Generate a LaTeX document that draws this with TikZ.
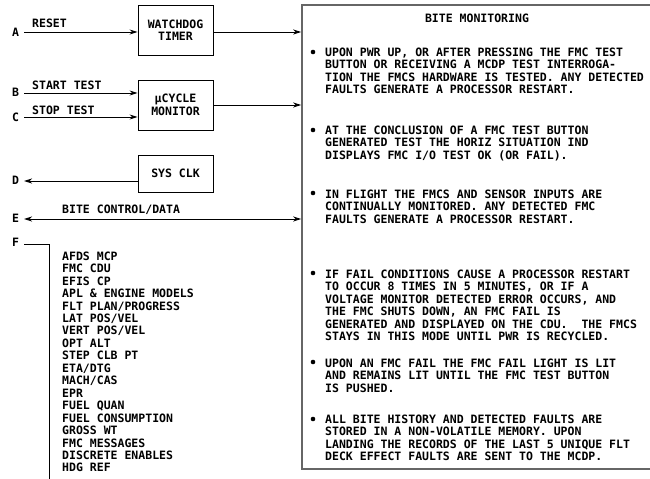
\documentclass[tikz,border=0pt]{standalone}
\usepackage{fontspec}
\setmonofont{DejaVu Sans Mono}
\usetikzlibrary{arrows.meta}

\tikzset{
  txt/.style={font=\ttfamily\bfseries\fontsize{11.55}{12.5}\selectfont, inner sep=0pt},
  blk/.style={draw, line width=0.9bp, minimum width=75bp, align=center, txt},
  sig/.style={line width=0.9bp, -{Stealth[length=8bp,width=5bp,inset=2.5bp]}},
  sigboth/.style={line width=0.9bp, {Stealth[length=8bp,width=5bp,inset=2.5bp]}-{Stealth[length=8bp,width=5bp,inset=2.5bp]}},
}

\begin{document}
\begin{tikzpicture}[x=1bp,y=-1bp]
\useasboundingbox (0,0) rectangle (650,479);

% Function blocks
\node[blk, minimum height=50bp] (wd) at (175.5,30) {WATCHDOG\\TIMER};
\node[blk, minimum height=50bp] (cyc) at (175.5,105) {µCYCLE\\MONITOR};
\node[blk, minimum height=37bp] (clk) at (175.5,173.5) {SYS CLK};

% BITE monitoring panel
\node[draw=black!60, line width=1.6bp, minimum width=350bp, minimum height=464bp, inner sep=0pt] (mon) at (477,237) {};

% Connector letters
\node[txt, anchor=base west] (la) at (12,37) {A};
\node[txt, anchor=base west] (lb) at (12,97) {B};
\node[txt, anchor=base west] (lc) at (12,122) {C};
\node[txt, anchor=base west] (ld) at (12,185) {D};
\node[txt, anchor=base west] (le) at (12,223) {E};
\node[txt, anchor=base west] (lf) at (12,247) {F};

\coordinate (a) at (24,32);
\coordinate (b) at (24,93);
\coordinate (c) at (24,117);
\coordinate (d) at (24,181);
\coordinate (e) at (24,219);
\coordinate (f) at (24,244);
\coordinate (fb) at (49,479);

% Signal lines
\draw[sig] (a) -- (a -| wd.west);
\draw[sig] (b) -- (b -| cyc.west);
\draw[sig] (c) -- (c -| cyc.west);
\draw[sig] (d -| clk.west) -- (d);
\draw[sigboth] (e) -- (e -| mon.west);
\draw[sig] (wd.east |- a) -- (a -| mon.west);
\draw[sig] (cyc.east) -- (cyc.east -| mon.west);
\draw[line width=0.9bp] (f) -- (f -| fb) -- (fb);

% Signal labels
\node[txt, anchor=base west] (rst) at (32,28) {RESET};
\node[txt, anchor=base west] (strt) at (32,90) {START TEST};
\node[txt, anchor=base west] (stp) at (32,115) {STOP TEST};
\node[txt, anchor=base west] (bcd) at (62,214) {BITE CONTROL/DATA};

% Data list on F
\node[txt, anchor=north west, align=left] (lst) at (62,251.5) {AFDS MCP\\FMC CDU\\EFIS CP\\APL \& ENGINE MODELS\\FLT PLAN/PROGRESS\\LAT POS/VEL\\VERT POS/VEL\\OPT ALT\\STEP CLB PT\\ETA/DTG\\MACH/CAS\\EPR\\FUEL QUAN\\FUEL CONSUMPTION\\GROSS WT\\FMC MESSAGES\\DISCRETE ENABLES\\HDG REF};

% Panel text
\node[txt, anchor=base] (ttl) at (477,23) {BITE MONITORING};

\fill (313,52) circle (2.3bp);
\node[txt, anchor=north west, align=left] (b1) at (325,47.5) {UPON PWR UP, OR AFTER PRESSING THE FMC TEST\\BUTTON OR RECEIVING A MCDP TEST INTERROGA-\\TION THE FMCS HARDWARE IS TESTED. ANY DETECTED\\FAULTS GENERATE A PROCESSOR RESTART.};

\fill (313,130) circle (2.3bp);
\node[txt, anchor=north west, align=left] (b2) at (325,125.5) {AT THE CONCLUSION OF A FMC TEST BUTTON\\GENERATED TEST THE HORIZ SITUATION IND\\DISPLAYS FMC I/O TEST OK (OR FAIL).};

\fill (313,193) circle (2.3bp);
\node[txt, anchor=north west, align=left] (b3) at (325,189.5) {IN FLIGHT THE FMCS AND SENSOR INPUTS ARE\\CONTINUALLY MONITORED. ANY DETECTED FMC\\FAULTS GENERATE A PROCESSOR RESTART.};

\fill (313,273) circle (2.3bp);
\node[txt, anchor=north west, align=left] (b4) at (325,269.5) {IF FAIL CONDITIONS CAUSE A PROCESSOR RESTART\\TO OCCUR 8 TIMES IN 5 MINUTES, OR IF A\\VOLTAGE MONITOR DETECTED ERROR OCCURS, AND\\THE FMC SHUTS DOWN, AN FMC FAIL IS\\GENERATED AND DISPLAYED ON THE CDU.\ \ THE FMCS\\STAYS IN THIS MODE UNTIL PWR IS RECYCLED.};

\fill (313,362) circle (2.3bp);
\node[txt, anchor=north west, align=left] (b5) at (325,358.5) {UPON AN FMC FAIL THE FMC FAIL LIGHT IS LIT\\AND REMAINS LIT UNTIL THE FMC TEST BUTTON\\IS PUSHED.};

\fill (313,419) circle (2.3bp);
\node[txt, anchor=north west, align=left] (b6) at (325,414.5) {ALL BITE HISTORY AND DETECTED FAULTS ARE\\STORED IN A NON-VOLATILE MEMORY. UPON\\LANDING THE RECORDS OF THE LAST 5 UNIQUE FLT\\DECK EFFECT FAULTS ARE SENT TO THE MCDP.};

\end{tikzpicture}
\end{document}
